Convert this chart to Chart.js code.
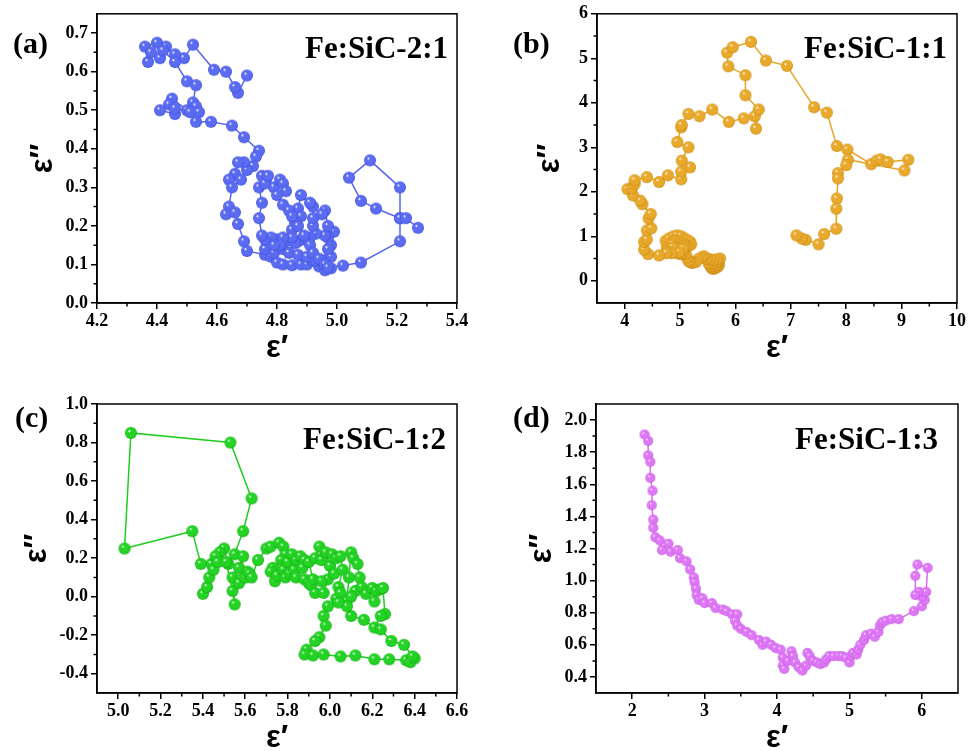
<!DOCTYPE html>
<html>
<head>
<meta charset="utf-8">
<script src="https://cdn.jsdelivr.net/npm/chart.js@4.4.1/dist/chart.umd.min.js"></script>
<style>
html, body { margin: 0; padding: 0; background: #fff; }
#wrap { position: relative; width: 977px; height: 751px; }
canvas { position: absolute; }
</style>
</head>
<body>
<div id="wrap">
  <canvas id="pa" style="left:0;top:0" width="490" height="375"></canvas>
  <canvas id="pb" style="left:490px;top:0" width="487" height="375"></canvas>
  <canvas id="pc" style="left:0;top:375px" width="490" height="376"></canvas>
  <canvas id="pd" style="left:490px;top:375px" width="487" height="376"></canvas>
</div>
<script>
// ---- data: (a) Fe:SiC-2:1 ----
const aX = [4.70,4.67,4.66,4.63,4.59,4.52,4.49,4.46,4.43,4.40,4.36,4.37,4.38,4.41,4.42,4.46,4.50,4.53,4.52,4.53,
  4.50,4.45,4.44,4.41,4.46,4.46,4.51,4.54,4.53,4.58,4.65,4.69,4.74,4.73,4.72,4.70,4.69,4.67,4.66,4.64,
  4.68,4.65,4.64,4.63,4.66,4.67,4.69,4.70,4.76,4.78,4.80,4.82,4.85,4.88,4.90,4.92,4.94,4.96,4.98,4.98,
  4.98,4.99,4.97,4.96,4.93,4.91,4.89,4.87,4.85,4.83,4.80,4.78,4.77,4.76,4.79,4.82,4.84,4.87,4.90,4.93,
  4.95,4.97,4.97,4.96,4.95,4.92,4.92,4.92,4.91,4.88,4.87,4.88,4.86,4.85,4.86,4.85,4.82,4.81,4.79,4.76,
  4.75,4.74,4.75,4.74,4.75,4.76,4.77,4.79,4.81,4.82,4.83,4.80,4.82,4.84,4.85,4.87,4.89,4.91,4.92,4.94,
  4.96,4.97,5.02,5.08,5.21,5.21,5.21,5.11,5.04,5.08,5.13,5.21,5.23,5.27];
const aY = [0.590,0.545,0.560,0.600,0.605,0.670,0.635,0.645,0.665,0.675,0.665,0.625,0.650,0.635,0.655,0.625,0.575,0.565,0.520,0.510,
  0.500,0.530,0.515,0.500,0.490,0.505,0.495,0.495,0.470,0.470,0.460,0.430,0.395,0.380,0.355,0.345,0.365,0.365,0.335,0.320,
  0.320,0.300,0.250,0.230,0.235,0.205,0.160,0.135,0.125,0.120,0.105,0.100,0.098,0.100,0.100,0.110,0.095,0.085,0.090,0.120,
  0.150,0.185,0.170,0.175,0.180,0.170,0.165,0.160,0.165,0.160,0.165,0.170,0.150,0.140,0.130,0.140,0.130,0.125,0.120,0.110,
  0.110,0.140,0.200,0.240,0.230,0.200,0.220,0.250,0.260,0.280,0.245,0.225,0.210,0.190,0.155,0.170,0.170,0.150,0.150,0.165,
  0.175,0.220,0.260,0.300,0.330,0.310,0.330,0.300,0.320,0.310,0.290,0.280,0.255,0.240,0.225,0.200,0.175,0.150,0.130,0.115,
  0.100,0.092,0.097,0.105,0.160,0.220,0.300,0.370,0.325,0.265,0.245,0.220,0.220,0.195];
const aTicksX = [4.2,4.4,4.6,4.8,5.0,5.2,5.4];
const aTicksY = [0.0,0.1,0.2,0.3,0.4,0.5,0.6,0.7];

// ---- data: (b) Fe:SiC-1:1 ----
const bX = [5.62,5.60,5.58,5.56,5.60,5.65,5.68,5.70,5.68,5.66,5.63,5.58,5.54,5.52,5.55,5.60,5.65,5.70,5.72,5.66,
  5.60,5.54,5.48,5.43,5.38,5.32,5.28,5.22,5.18,5.15,5.12,5.10,5.05,5.00,4.95,4.88,4.80,4.76,4.74,4.80,
  4.88,4.95,5.02,5.08,5.12,5.18,5.20,5.15,5.10,5.05,5.00,4.95,4.90,4.86,4.88,4.94,5.00,5.05,4.98,4.85,
  4.75,4.62,4.42,4.35,4.35,4.40,4.40,4.48,4.43,4.47,4.32,4.28,4.15,4.05,4.13,4.18,4.18,4.40,4.62,4.78,
  5.02,5.02,5.18,5.03,5.15,4.95,5.02,5.03,5.15,5.35,5.58,5.88,6.15,6.35,6.37,6.42,6.18,6.18,5.87,5.85,
  5.95,6.28,6.55,6.93,7.42,7.65,7.83,8.02,8.45,8.55,8.62,8.75,9.12,9.05,8.03,8.00,7.85,7.85,7.83,7.82,
  7.82,7.60,7.50,7.27,7.20,7.10];
const bY = [0.28,0.27,0.28,0.30,0.30,0.30,0.32,0.35,0.38,0.36,0.33,0.33,0.35,0.38,0.40,0.40,0.42,0.45,0.50,0.48,
  0.47,0.48,0.50,0.55,0.52,0.48,0.42,0.40,0.42,0.45,0.52,0.60,0.62,0.60,0.62,0.65,0.68,0.75,0.90,0.95,
  1.00,1.02,1.00,0.95,0.92,0.88,0.82,0.78,0.80,0.85,0.88,0.90,0.88,0.82,0.76,0.72,0.70,0.72,0.64,0.62,
  0.62,0.57,0.60,0.70,0.87,0.93,1.13,1.18,1.40,1.50,1.72,1.80,1.92,2.06,2.08,2.18,2.26,2.33,2.22,2.37,
  2.28,2.45,2.55,2.70,3.00,3.12,3.45,3.50,3.75,3.70,3.85,3.57,3.65,3.70,3.42,3.85,4.17,4.62,4.82,5.13,
  5.25,5.37,4.95,4.83,3.90,3.78,3.03,2.95,2.62,2.70,2.73,2.67,2.72,2.48,2.72,2.60,2.42,2.30,1.85,1.62,
  1.17,1.05,0.82,0.92,0.95,1.02];
const bTicksX = [4,5,6,7,8,9,10];
const bTicksY = [0,1,2,3,4,5,6];

// ---- data: (c) Fe:SiC-1:2 ----
const cX = [5.40,5.42,5.43,5.44,5.39,5.35,5.03,5.06,5.53,5.63,5.59,5.55,5.52,5.50,5.48,5.46,5.45,5.47,5.51,5.54,
  5.55,5.54,5.57,5.59,5.58,5.57,5.60,5.61,5.62,5.63,5.66,5.70,5.72,5.76,5.78,5.79,5.77,5.73,5.72,5.74,
  5.75,5.78,5.80,5.79,5.81,5.83,5.82,5.84,5.86,5.88,5.87,5.84,5.88,5.90,5.91,5.93,5.92,5.90,5.93,5.95,
  5.96,5.98,6.00,5.99,5.97,5.96,6.02,6.01,6.03,6.05,6.06,6.04,6.03,6.05,6.08,6.09,6.10,6.11,6.13,6.14,
  6.12,6.10,6.15,6.17,6.20,6.21,6.22,6.24,6.25,6.26,6.24,6.21,6.16,6.10,6.08,6.04,5.99,5.97,5.98,5.95,
  5.93,5.89,5.88,5.92,5.97,6.05,6.12,6.21,6.28,6.36,6.38,6.40,6.39,6.35,6.29,6.24];
const cY = [0.015,0.05,0.10,0.17,0.17,0.34,0.25,0.85,0.80,0.51,0.34,0.22,0.17,0.25,0.23,0.21,0.14,0.18,0.18,0.03,
  -0.04,0.10,0.15,0.21,0.09,0.07,0.10,0.13,0.12,0.10,0.19,0.25,0.26,0.28,0.26,0.22,0.19,0.15,0.13,0.08,
  0.11,0.14,0.18,0.10,0.12,0.14,0.22,0.19,0.21,0.19,0.15,0.10,0.09,0.07,0.06,0.02,0.09,0.18,0.20,0.26,
  0.19,0.23,0.16,0.09,0.02,0.08,0.12,0.22,0.20,0.21,0.14,0.05,-0.01,0.02,-0.02,0.10,0.23,0.20,0.17,0.10,
  0.03,0.00,0.05,0.015,0.045,-0.025,0.03,0.04,0.045,-0.09,-0.10,-0.16,-0.12,-0.10,-0.05,-0.03,-0.05,-0.10,-0.15,-0.21,
  -0.23,-0.275,-0.30,-0.305,-0.30,-0.31,-0.305,-0.325,-0.325,-0.33,-0.34,-0.32,-0.31,-0.25,-0.23,-0.17];
const cTicksX = [5.0,5.2,5.4,5.6,5.8,6.0,6.2,6.4,6.6];
const cTicksY = [-0.4,-0.2,0.0,0.2,0.4,0.6,0.8,1.0];

// ---- data: (d) Fe:SiC-1:3 ----
const dX = [2.17,2.22,2.22,2.25,2.25,2.28,2.27,2.29,2.29,2.32,2.38,2.41,2.50,2.53,2.63,2.66,2.75,2.80,2.85,2.86,
  2.88,2.89,2.92,2.97,3.00,3.10,3.15,3.25,3.30,3.38,3.45,3.42,3.45,3.50,3.58,3.65,3.75,3.80,3.85,3.92,
  3.98,4.05,4.08,4.08,4.10,4.15,4.20,4.22,4.25,4.30,4.35,4.40,4.42,4.45,4.50,4.55,4.60,4.65,4.68,4.72,
  4.78,4.85,4.90,4.95,5.00,5.02,5.05,5.10,5.12,5.15,5.20,5.23,5.30,5.35,5.40,5.42,5.45,5.50,5.58,5.68,
  5.89,6.00,6.04,6.00,5.96,5.91,5.91,5.94,6.08,6.06];
const dY = [1.91,1.87,1.78,1.74,1.64,1.56,1.47,1.38,1.33,1.27,1.25,1.19,1.23,1.18,1.19,1.14,1.12,1.07,1.02,0.99,
  0.95,0.91,0.88,0.89,0.86,0.86,0.83,0.82,0.81,0.79,0.79,0.75,0.72,0.70,0.68,0.66,0.63,0.60,0.62,0.60,
  0.58,0.57,0.52,0.47,0.45,0.50,0.56,0.53,0.49,0.46,0.44,0.47,0.55,0.53,0.50,0.49,0.48,0.49,0.51,0.53,
  0.53,0.53,0.53,0.52,0.49,0.53,0.55,0.54,0.57,0.60,0.63,0.66,0.67,0.65,0.68,0.72,0.74,0.75,0.76,0.76,
  0.81,0.84,0.88,0.90,0.93,0.91,1.03,1.10,1.08,0.93];
const dTicksX = [2,3,4,5,6];
const dTicksY = [0.4,0.6,0.8,1.0,1.2,1.4,1.6,1.8,2.0];

// glossy sphere marker
function ball(color, edge, d) {
  const c = document.createElement('canvas');
  c.width = c.height = Math.ceil(d) + 2;
  const g = c.getContext('2d');
  const r = d / 2, m = c.width / 2;
  const grad = g.createRadialGradient(m - r * 0.3, m - r * 0.35, r * 0.05, m, m, r);
  grad.addColorStop(0, '#ffffff');
  grad.addColorStop(0.22, color);
  grad.addColorStop(0.8, color);
  grad.addColorStop(1, edge);
  g.fillStyle = grad;
  g.beginPath();
  g.arc(m, m, r, 0, Math.PI * 2);
  g.fill();
  return c;
}

function minors(maj, min, max) {
  const step = maj[1] - maj[0];
  const out = [];
  for (let i = -1; i < maj.length; i++) {
    const v = (i < 0 ? maj[0] : maj[i]) + (i < 0 ? -step / 2 : step / 2);
    if (v > min + 1e-9 && v < max - 1e-9) out.push(v);
  }
  return out;
}

const deco = {
  id: 'deco',
  afterDraw(chart, args, o) {
    const { ctx, chartArea: a, scales: { x, y } } = chart;
    ctx.save();
    ctx.strokeStyle = '#000';
    ctx.lineWidth = 1.5;
    ctx.strokeRect(a.left, a.top, a.right - a.left, a.bottom - a.top);
    ctx.beginPath();
    minors(o.tx, x.min, x.max).forEach(v => {
      const p = x.getPixelForValue(v);
      ctx.moveTo(p, a.bottom); ctx.lineTo(p, a.bottom + 3.5);
    });
    minors(o.ty, y.min, y.max).forEach(v => {
      const p = y.getPixelForValue(v);
      ctx.moveTo(a.left, p); ctx.lineTo(a.left - 3.5, p);
    });
    ctx.stroke();
    ctx.fillStyle = '#000';
    ctx.textBaseline = 'alphabetic';
    ctx.font = 'bold 30px "Liberation Serif"';
    ctx.textAlign = 'left';
    ctx.fillText(o.tag, o.tagX, o.tagY);
    ctx.font = 'bold 31px "Liberation Serif"';
    ctx.textAlign = 'right';
    ctx.fillText(o.name, o.nameX, o.nameY);
    ctx.restore();
  }
};

const tickFont = { family: '"Liberation Serif"', weight: 'bold', size: 18 };
const titleFont = { family: '"Liberation Sans"', weight: 'bold', size: 31, lineHeight: 0.8 };

function panel(id, xs, ys, p) {
  const pts = xs.map((v, i) => ({ x: v, y: ys[i] }));
  new Chart(document.getElementById(id), {
    type: 'line',
    data: {
      datasets: [{
        data: pts,
        borderColor: p.line,
        borderWidth: 1.5,
        tension: 0,
        pointStyle: ball(p.color, p.edge, p.size),
        pointRadius: p.size / 2,
        fill: false
      }]
    },
    options: {
      responsive: false,
      animation: false,
      events: [],
      layout: { padding: p.pad },
      plugins: {
        legend: { display: false },
        tooltip: { enabled: false },
        deco: { tx: p.tx, ty: p.ty, tag: p.tag, tagX: p.tagX, tagY: p.tagY, name: p.name, nameX: p.nameX, nameY: p.nameY }
      },
      scales: {
        x: {
          type: 'linear', min: p.xr[0], max: p.xr[1],
          afterBuildTicks: s => { s.ticks = p.tx.map(v => ({ value: v })); },
          afterFit: s => { s.height = p.xh; },
          ticks: { callback: v => v.toFixed(p.dx), font: tickFont, color: '#000', padding: 2, maxRotation: 0, autoSkip: false },
          grid: { drawOnChartArea: false, drawTicks: true, tickLength: 6, color: '#000', lineWidth: 1.5 },
          border: { display: true, color: '#000', width: 1.5 },
          title: { display: true, text: 'ε′', font: titleFont, color: '#000', padding: 0 }
        },
        y: {
          type: 'linear', min: p.yr[0], max: p.yr[1],
          afterBuildTicks: s => { s.ticks = p.ty.map(v => ({ value: v })); },
          afterFit: s => { s.width = p.yw; },
          ticks: { callback: v => v.toFixed(p.dy), font: tickFont, color: '#000', padding: 3, autoSkip: false },
          grid: { drawOnChartArea: false, drawTicks: true, tickLength: 6, color: '#000', lineWidth: 1.5 },
          border: { display: true, color: '#000', width: 1.5 },
          title: { display: true, text: 'ε″', font: titleFont, color: '#000', padding: 0 }
        }
      }
    },
    plugins: [deco]
  });
}

panel('pa', aX, aY, {
  color: '#5b6cf3', edge: '#3d4fd8', line: '#5567ef', size: 12,
  xr: [4.2, 5.4], yr: [0, 0.75], tx: aTicksX, ty: aTicksY, dx: 1, dy: 1,
  pad: { left: 31, right: 33, top: 13, bottom: 14 }, yw: 66, xh: 58,
  tag: '(a)', tagX: 13, tagY: 53, name: 'Fe:SiC-2:1', nameX: 448, nameY: 58
});
panel('pb', bX, bY, {
  color: '#e9aa2c', edge: '#c88a12', line: '#e6a52a', size: 12,
  xr: [3.5, 10], yr: [-0.5, 6], tx: bTicksX, ty: bTicksY, dx: 0, dy: 0,
  pad: { left: 48, right: 20, top: 13, bottom: 14 }, yw: 59, xh: 58,
  tag: '(b)', tagX: 23, tagY: 53, name: 'Fe:SiC-1:1', nameX: 457, nameY: 58
});
panel('pc', cX, cY, {
  color: '#24d424', edge: '#0fa80f', line: '#22cc22', size: 12,
  xr: [4.9, 6.6], yr: [-0.5, 1.0], tx: cTicksX, ty: cTicksY, dx: 1, dy: 1,
  pad: { left: 25, right: 33, top: 29, bottom: 0 }, yw: 72, xh: 58,
  tag: '(c)', tagX: 15, tagY: 52, name: 'Fe:SiC-1:2', nameX: 446, nameY: 74
});
panel('pd', dX, dY, {
  color: '#de78f6', edge: '#c052dc', line: '#d86ff0', size: 10,
  xr: [1.5, 6.5], yr: [0.3, 2.1], tx: dTicksX, ty: dTicksY, dx: 0, dy: 1,
  pad: { left: 40, right: 19, top: 29, bottom: 0 }, yw: 66, xh: 58,
  tag: '(d)', tagX: 23, tagY: 52, name: 'Fe:SiC-1:3', nameX: 448, nameY: 74
});
</script>
</body>
</html>
